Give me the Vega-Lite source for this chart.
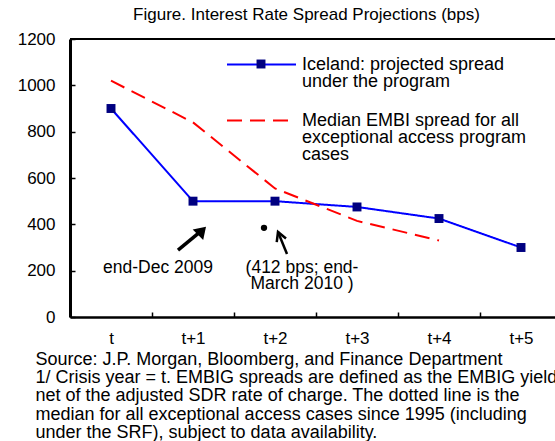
{
  "$schema": "https://vega.github.io/schema/vega-lite/v6.json",
  "width": 485,
  "height": 278,
  "autosize": {"type": "none"},
  "padding": {"left": 70, "top": 39, "right": 0, "bottom": 124},
  "background": "white",
  "config": {
    "font": "Liberation Sans",
    "view": {"stroke": null},
    "axis": {"grid": false, "labelFont": "Liberation Sans", "titleFont": "Liberation Sans", "labelColor": "black", "titleColor": "black", "domainColor": "black", "tickColor": "black"},
    "legend": {"labelFont": "Liberation Sans"},
    "text": {"font": "Liberation Sans"}
  },
  "title": {"text": "Figure. Interest Rate Spread Projections  (bps)", "font": "Liberation Sans", "fontSize": 17, "fontWeight": "normal", "color": "black", "dx": -6, "offset": 6},
  "datasets": {
    "spreads": [
      {"period": "t", "series": "Iceland", "spread": 900},
      {"period": "t+1", "series": "Iceland", "spread": 500},
      {"period": "t+2", "series": "Iceland", "spread": 500},
      {"period": "t+3", "series": "Iceland", "spread": 475},
      {"period": "t+4", "series": "Iceland", "spread": 425},
      {"period": "t+5", "series": "Iceland", "spread": 300},
      {"period": "t", "series": "Median", "spread": 1020},
      {"period": "t+1", "series": "Median", "spread": 840},
      {"period": "t+2", "series": "Median", "spread": 555},
      {"period": "t+3", "series": "Median", "spread": 415},
      {"period": "t+4", "series": "Median", "spread": 330}
    ]
  },
  "layer": [
    {
      "data": {"name": "spreads"},
      "mark": {"type": "line", "strokeWidth": 2},
      "encoding": {
        "x": {
          "field": "period", "type": "ordinal",
          "scale": {"type": "band", "domain": ["t", "t+1", "t+2", "t+3", "t+4", "t+5"], "range": [0, 492], "paddingInner": 0, "paddingOuter": 0},
          "axis": {
            "title": ["Source: J.P. Morgan, Bloomberg, and Finance Department", "1/ Crisis year = t. EMBIG spreads are defined as the EMBIG yield", "net of the adjusted SDR rate of charge. The dotted line is the", "median for all exceptional access cases since 1995 (including", "under the SRF), subject to data availability."],
            "titleFontSize": 18, "titleFontWeight": "normal", "titleAlign": "left", "titleAnchor": "start", "titleBaseline": "alphabetic",
            "titleX": -35, "titleY": 47, "titleLineHeight": 18.4,
            "labelAngle": 0, "labelFontSize": 17, "labelPadding": 18,
            "tickBand": "extent", "tickSize": -5, "tickWidth": 1.5, "domainWidth": 2.5
          }
        },
        "y": {
          "field": "spread", "type": "quantitative",
          "scale": {"domain": [0, 1200]},
          "axis": {"title": null, "values": [0, 200, 400, 600, 800, 1000, 1200], "format": "d", "labelFontSize": 17, "labelPadding": 20, "tickSize": -5, "tickWidth": 1.5, "domainWidth": 3}
        },
        "color": {
          "field": "series", "type": "nominal",
          "scale": {"domain": ["Iceland", "Median"], "range": ["#0000FF", "#FF0000"]},
          "legend": {
            "title": null, "orient": "none", "legendX": 179, "legendY": 13, "padding": 0,
            "symbolType": "M-3,0H3", "symbolSize": 529, "symbolStrokeWidth": 2,
            "labelFontSize": 18, "labelColor": "black", "labelLimit": 0, "labelOffset": 28, "labelBaseline": "alphabetic", "rowPadding": 17,
            "labelExpr": "datum.label === 'Iceland' ? ['Iceland: projected spread', 'under the program'] : ['Median EMBI spread for all', 'exceptional access program', 'cases']",
            "encode": {"labels": {"update": {"dy": {"value": 5}, "lineHeight": {"value": 17}}}}
          }
        },
        "strokeDash": {
          "field": "series", "type": "nominal",
          "scale": {"domain": ["Iceland", "Median"], "range": [[1, 0], [15, 8]]},
          "legend": {
            "title": null, "orient": "none", "legendX": 179, "legendY": 13, "padding": 0,
            "symbolType": "M-3,0H3", "symbolSize": 529, "symbolStrokeWidth": 2,
            "labelFontSize": 18, "labelColor": "black", "labelLimit": 0, "labelOffset": 28, "labelBaseline": "alphabetic", "rowPadding": 17,
            "labelExpr": "datum.label === 'Iceland' ? ['Iceland: projected spread', 'under the program'] : ['Median EMBI spread for all', 'exceptional access program', 'cases']",
            "encode": {"labels": {"update": {"dy": {"value": 5}, "lineHeight": {"value": 17}}}}
          }
        }
      }
    },
    {
      "data": {"values": [{"v": 1200}]},
      "mark": {"type": "rule", "color": "black", "strokeWidth": 2},
      "encoding": {"y": {"field": "v", "type": "quantitative"}}
    },
    {
      "data": {"name": "spreads"},
      "transform": [{"filter": "datum.series === 'Iceland'"}],
      "mark": {"type": "point", "filled": true, "color": "#000080", "size": 80, "opacity": 1},
      "encoding": {
        "x": {"field": "period", "type": "ordinal", "scale": {"type": "band"}},
        "y": {"field": "spread", "type": "quantitative"},
        "shape": {
          "datum": "marker",
          "scale": {"range": ["square"]},
          "legend": {"title": null, "orient": "none", "legendX": 186, "legendY": 20, "padding": 0, "symbolType": "square", "symbolSize": 80, "symbolFillColor": "#000080", "symbolStrokeColor": "#000080", "symbolStrokeWidth": 0, "labelExpr": "''"}
        }
      }
    },
    {
      "data": {"values": [{"period": "t+2", "spread": 385}]},
      "mark": {"type": "point", "filled": true, "color": "black", "size": 40, "opacity": 1, "xOffset": -11},
      "encoding": {
        "x": {"field": "period", "type": "ordinal", "scale": {"type": "band"}},
        "y": {"field": "spread", "type": "quantitative"}
      }
    },
    {
      "data": {"values": [{"period": "t+1", "spread": 289, "to": 371}]},
      "mark": {"type": "rule", "color": "black", "strokeWidth": 3.5, "xOffset": -15, "x2Offset": 8},
      "encoding": {
        "x": {"field": "period", "type": "ordinal", "scale": {"type": "band"}},
        "x2": {"field": "period"},
        "y": {"field": "spread", "type": "quantitative"},
        "y2": {"field": "to"}
      }
    },
    {
      "data": {"values": [{"period": "t+1", "spread": 390}]},
      "mark": {"type": "point", "filled": true, "color": "black", "opacity": 1, "size": 520, "shape": "M0,0L-0.65,1L0.65,1Z", "angle": 45, "xOffset": 13},
      "encoding": {
        "x": {"field": "period", "type": "ordinal", "scale": {"type": "band"}},
        "y": {"field": "spread", "type": "quantitative"}
      }
    },
    {
      "data": {"values": [{"period": "t+2", "spread": 272, "to": 367}]},
      "mark": {"type": "rule", "color": "black", "strokeWidth": 2.5, "xOffset": 12, "x2Offset": 3},
      "encoding": {
        "x": {"field": "period", "type": "ordinal", "scale": {"type": "band"}},
        "x2": {"field": "period"},
        "y": {"field": "spread", "type": "quantitative"},
        "y2": {"field": "to"}
      }
    },
    {
      "data": {"values": [{"period": "t+2", "spread": 367}]},
      "mark": {"type": "point", "filled": false, "color": "black", "opacity": 1, "strokeWidth": 2.5, "size": 400, "shape": "M-0.5,0.9L0,0L0.5,0.9", "angle": -22, "xOffset": 3},
      "encoding": {
        "x": {"field": "period", "type": "ordinal", "scale": {"type": "band"}},
        "y": {"field": "spread", "type": "quantitative"}
      }
    },
    {
      "data": {"values": [{"period": "t+1", "spread": 190, "note": "end-Dec 2009"}]},
      "mark": {"type": "text", "fontSize": 17.5, "color": "black", "align": "center", "baseline": "alphabetic", "xOffset": -35},
      "encoding": {
        "x": {"field": "period", "type": "ordinal", "scale": {"type": "band"}},
        "y": {"field": "spread", "type": "quantitative"},
        "text": {"field": "note"}
      }
    },
    {
      "data": {"values": [{"period": "t+2", "spread": 190}]},
      "mark": {"type": "text", "fontSize": 17.5, "color": "black", "align": "center", "baseline": "alphabetic", "xOffset": 27, "lineHeight": 16.5},
      "encoding": {
        "x": {"field": "period", "type": "ordinal", "scale": {"type": "band"}},
        "y": {"field": "spread", "type": "quantitative"},
        "text": {"value": ["(412 bps; end-", "March 2010 )"]}
      }
    }
  ]
}
